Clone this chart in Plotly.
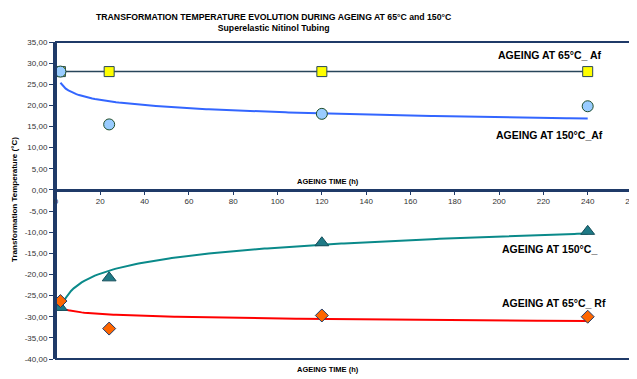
import numpy as np
import plotly.graph_objects as go

ageing_time = [2, 24, 120, 240]
af_65 = [28.0, 28.0, 28.0, 28.0]
af_150 = [28.0, 15.5, 18.0, 19.8]
rs_150 = [-27.8, -20.8, -12.5, -9.8]
rf_65 = [-26.3, -32.8, -29.7, -30.0]

y_ticks = list(range(-40, 40, 5))
y_tick_text = [f"{v:.2f}".replace(".", ",") for v in y_ticks]
x_ticks = list(range(0, 280, 20))

NAVY = "#1F3A68"
FONT = "Liberation Sans, Arial, sans-serif"


def log_trend(xs, ys):
    b, a = np.polyfit(np.log(xs), ys, 1)
    xt = np.linspace(min(xs), max(xs), 200)
    return xt, a + b * np.log(xt)


fig = go.Figure()

for ys, col in [(af_150, "#3366FF"), (rs_150, "#0A8A8A"), (rf_65, "#FF0000")]:
    xt, yt = log_trend(ageing_time, ys)
    fig.add_trace(go.Scatter(x=xt, y=yt, mode="lines", line=dict(color=col, width=2),
                             showlegend=False, hoverinfo="skip"))

fig.add_trace(go.Scatter(x=ageing_time, y=af_65, mode="lines+markers",
                         line=dict(color="#28465A", width=1.5),
                         marker=dict(symbol="square", size=10, color="#FFFF00",
                                     line=dict(color="#28465A", width=1)),
                         showlegend=False))
fig.add_trace(go.Scatter(x=ageing_time, y=af_150, mode="markers",
                         marker=dict(symbol="circle", size=11, color="#99CCFF",
                                     line=dict(color="#1E4D2B", width=1)),
                         showlegend=False))
fig.add_trace(go.Scatter(x=ageing_time, y=rs_150, mode="markers",
                         marker=dict(symbol="triangle-up", size=12, color="#1F7A86",
                                     line=dict(color="#154E5A", width=1)),
                         showlegend=False))
fig.add_trace(go.Scatter(x=ageing_time, y=rf_65, mode="markers",
                         marker=dict(symbol="diamond", size=10, color="#FF6600",
                                     line=dict(color="#1F3A68", width=1)),
                         showlegend=False))

# page has an 8px body margin; the figure is sized so it fills the window
OFF = 8
W, H = 637 - OFF, 379 - OFF
L, R, T, B = 56 - OFF, 5, 42 - OFF, 20
pw, ph = W - L - R, H - T - B

annotations = [
    ("<b>TRANSFORMATION TEMPERATURE EVOLUTION DURING AGEING AT 65°C and 150°C</b><br><b>Superelastic Nitinol Tubing</b>", 274, 23, 8.7, 0),
    ("<b>AGEING AT 65°C_ Af</b>", 549, 55, 10.5, 0),
    ("<b>AGEING AT 150°C_Af</b>", 549, 135, 10.5, 0),
    ("<b>AGEING AT 150°C_</b>", 549, 249, 10.5, 0),
    ("<b>AGEING AT 65°C_ Rf</b>", 554, 303, 10.5, 0),
    ("<b>AGEING TIME (h)</b>", 328, 181, 7.5, 0),
    ("<b>AGEING TIME (h)</b>", 328, 369, 7.5, 0),
    ("<b>Transformation Temperature (°C)</b>", 14, 200, 8, -90),
]
ann_list = []
for text, px, py, size, angle in annotations:
    fx = (px - OFF - L) / pw
    fy = (H - B - (py - OFF)) / ph
    ann_list.append(dict(text=text, x=fx, y=fy, xref="paper", yref="paper",
                         showarrow=False, textangle=angle,
                         font=dict(family=FONT, size=size, color="#000"),
                         xanchor="center", yanchor="middle"))

fig.update_layout(
    width=W, height=H,
    margin=dict(l=L, r=R, t=T, b=B, autoexpand=False),
    paper_bgcolor="white", plot_bgcolor="white",
    annotations=ann_list,
    shapes=[dict(type="rect", xref="paper", yref="paper", x0=0, x1=1, y0=0, y1=1,
                 line=dict(color=NAVY, width=2))],
    xaxis=dict(range=[0, 260], tickvals=x_ticks, showgrid=False, zeroline=False,
               automargin=False, ticklabeloverflow="allow",
               anchor="free", position=40 / 75, showline=True, linecolor=NAVY, linewidth=2.5,
               ticks="outside", ticklen=3, tickcolor=NAVY,
               tickfont=dict(family=FONT, size=8, color="#333")),
    yaxis=dict(range=[-40, 35], tickvals=y_ticks, ticktext=y_tick_text, showgrid=False,
               automargin=False,
               zeroline=False, showline=True, linecolor=NAVY, linewidth=3,
               ticks="outside", ticklen=4, tickcolor=NAVY,
               tickfont=dict(family=FONT, size=8, color="#333")),
)

fig.write_html("out.html")
